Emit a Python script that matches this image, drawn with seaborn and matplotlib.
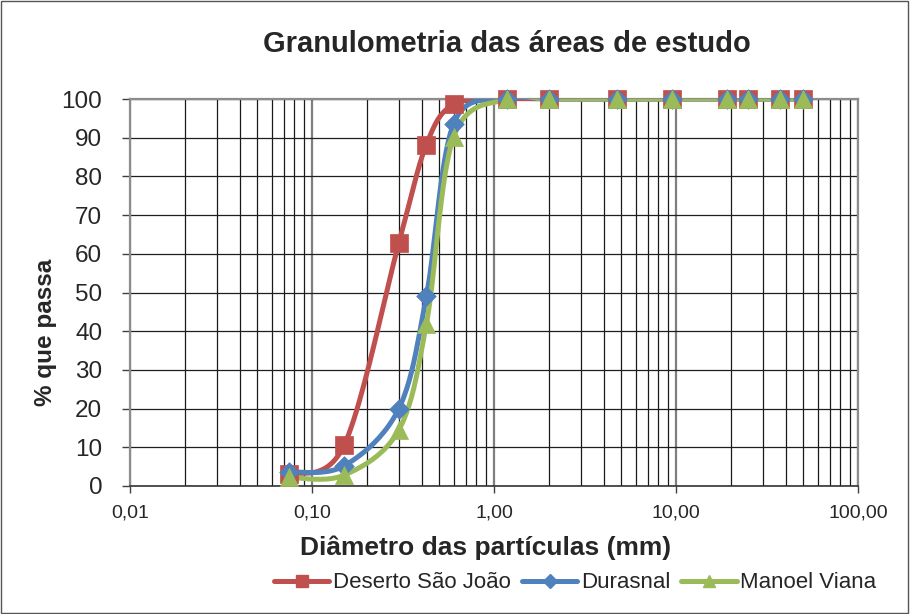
import numpy as np
import pandas as pd
import matplotlib
matplotlib.use("Agg")
import matplotlib.pyplot as plt
import matplotlib.ticker as mticker
from matplotlib.lines import Line2D
from matplotlib.patches import Rectangle
import seaborn as sns

# abertura das peneiras (mm)
diametros = [0.075, 0.15, 0.3, 0.425, 0.6, 1.18, 2.0, 4.75, 9.5, 19.0, 25.0, 37.5, 50.0]

deserto_sao_joao = [3.0, 10.5, 62.8, 88.2, 98.6, 100, 100, 100, 100, 100, 100, 100, 100]
durasnal = [3.6, 5.2, 20.0, 49.0, 93.6, 100, 100, 100, 100, 100, 100, 100, 100]
manoel_viana = [2.2, 2.8, 14.5, 41.8, 90.2, 100, 100, 100, 100, 100, 100, 100, 100]

series = ["Deserto São João", "Durasnal", "Manoel Viana"]
valores = [deserto_sao_joao, durasnal, manoel_viana]
cores = ["#C0504D", "#4F81BD", "#9BBB59"]
marcadores = ["s", "D", "^"]
tamanhos = [13, 10, 13]

xticks = [0.01, 0.1, 1, 10, 100]
xtick_labels = ["0,01", "0,10", "1,00", "10,00", "100,00"]

# escala aproximada em pixels (decada x unidade de %) usada para suavizar como o Excel
PX_DEC = 182.0
PX_Y = 3.87


def curva_suave(x, y, n=24):
    # Bezier cubica tipo Excel (Catmull-Rom, tensao 1/6) em espaco de tela
    u = np.log10(np.asarray(x, dtype=float)) * PX_DEC
    v = np.asarray(y, dtype=float) * PX_Y
    P = np.column_stack([u, v])
    Pp = np.vstack([P[0], P, P[-1]])
    pts = []
    t = np.linspace(0, 1, n)[:, None]
    for i in range(len(P) - 1):
        p0, p1, p2, p3 = Pp[i], Pp[i + 1], Pp[i + 2], Pp[i + 3]
        c1 = p1 + (p2 - p0) / 6.0
        c2 = p2 - (p3 - p1) / 6.0
        seg = ((1 - t) ** 3) * p1 + 3 * ((1 - t) ** 2) * t * c1 + 3 * (1 - t) * t ** 2 * c2 + t ** 3 * p2
        pts.append(seg if i == 0 else seg[1:])
    pts = np.vstack(pts)
    return 10 ** (pts[:, 0] / PX_DEC), pts[:, 1] / PX_Y


sns.set_theme(style="white")
plt.rcParams["font.family"] = ["Liberation Sans", "DejaVu Sans"]

fig = plt.figure(figsize=(9.1, 6.14), dpi=100)
ax = fig.add_axes([130 / 910, 1 - 486 / 614, (858 - 130) / 910, (486 - 99) / 614])

for nome, vals, cor, mk, ms in zip(series, valores, cores, marcadores, tamanhos):
    xs, ys = curva_suave(diametros, vals)
    curva = pd.DataFrame({"d": xs, "p": ys})
    sns.lineplot(data=curva, x="d", y="p", sort=False, color=cor, linewidth=3.6,
                 ax=ax, zorder=3)
    pontos = pd.DataFrame({"d": diametros, "p": vals})
    sns.scatterplot(data=pontos, x="d", y="p", marker=mk, s=ms ** 2, color=cor,
                    edgecolor=cor, linewidth=0.5, ax=ax, zorder=4, clip_on=False)

ax.set_xscale("log")
ax.set_xlim(0.01, 100)
ax.set_ylim(0, 100)
ax.set_yticks(range(0, 101, 10))
ax.xaxis.set_major_locator(mticker.FixedLocator(xticks))
ax.xaxis.set_major_formatter(mticker.FixedFormatter(xtick_labels))
ax.xaxis.set_minor_locator(mticker.LogLocator(base=10, subs=np.arange(2, 10)))
ax.xaxis.set_minor_formatter(mticker.NullFormatter())

ax.grid(True, which="major", axis="x", color="#7f7f7f", linewidth=1.6)
ax.grid(True, which="minor", axis="x", color="#1a1a1a", linewidth=0.9)
ax.grid(True, which="major", axis="y", color="#1f1f1f", linewidth=0.9)
ax.set_axisbelow(True)

ax.tick_params(axis="both", which="major", direction="out", width=1,
               color="#404040", bottom=True, left=True)
ax.tick_params(axis="x", which="minor", length=0)
ax.tick_params(axis="y", labelsize=17.5, length=6, pad=14)
ax.tick_params(axis="x", labelsize=14, length=5, pad=8)

for lado in ["top", "right", "left"]:
    ax.spines[lado].set_color("#8c8c8c")
    ax.spines[lado].set_linewidth(1.6)
ax.spines["bottom"].set_color("#333333")
ax.spines["bottom"].set_linewidth(1.2)

fig.text(507 / 910, 1 - 44 / 614, "Granulometria das áreas de estudo", fontsize=21,
         fontweight="bold", ha="center", va="center")
ax.set_xlabel("")
ax.set_ylabel("")
fig.text(486 / 910, 1 - 548 / 614, "Diâmetro das partículas (mm)", fontsize=19,
         fontweight="bold", ha="center", va="center")
fig.text(46 / 910, 1 - 332 / 614, "% que passa", fontsize=17.5, fontweight="bold",
         ha="center", va="center", rotation=90)

handles = [Line2D([0], [0], color=c, lw=3.6, marker=m, markersize=s * 0.7)
           for c, m, s in zip(cores, marcadores, tamanhos)]
fig.legend(handles, series, loc="center", bbox_to_anchor=(575 / 910, 1 - 583 / 614),
           ncol=3, frameon=False, fontsize=16, handlelength=2.5, handletextpad=0.15,
           columnspacing=0.5, borderpad=0.1)

fig.patches.append(Rectangle((0.001, 0.001), 0.997, 0.997, transform=fig.transFigure,
                             fill=False, edgecolor="#555555", linewidth=1.0))

fig.savefig("out.png", dpi=100, facecolor="white")
